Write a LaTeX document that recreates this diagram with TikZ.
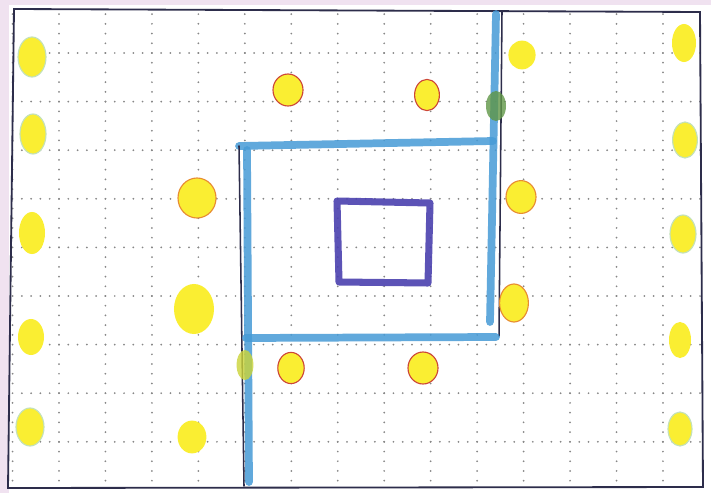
\documentclass[tikz,border=0pt]{standalone}
\usepackage{tikz}
\usetikzlibrary{shapes.geometric}
\definecolor{crayonyellow}{RGB}{250,238,50}
\definecolor{crayonblue}{RGB}{70,155,215}
\definecolor{pencil}{RGB}{45,45,75}
\definecolor{inkviolet}{RGB}{75,65,175}
\definecolor{ringred}{RGB}{205,70,55}
\definecolor{ringorange}{RGB}{232,140,50}
\definecolor{ringgreen}{RGB}{195,225,185}
\definecolor{gridgray}{RGB}{135,135,135}
\definecolor{paperpink}{RGB}{240,226,240}
\definecolor{mossgreen}{RGB}{95,150,70}
\tikzset{
  frame line/.style  = {line width=1.3pt, draw=pencil, line cap=round},
  crayon/.style      = {line width=5.5pt, draw=crayonblue, opacity=0.85, line cap=round},
  pencil line/.style = {line width=1.1pt, draw=pencil, line cap=round},
  square line/.style = {line width=5pt, draw=inkviolet, opacity=0.9, line join=round},
  grid dot/.style    = {fill=gridgray},
  coin/.style        = {ellipse, fill=crayonyellow, inner sep=0pt,
                        minimum width=0.72cm, minimum height=0.95cm},
  red coin/.style    = {coin, draw=ringred, line width=0.8pt},
  orange coin/.style = {coin, draw=ringorange, line width=0.8pt},
  pale coin/.style   = {coin, draw=ringgreen, line width=0.8pt},
  green spot/.style  = {ellipse, fill=mossgreen, opacity=0.8, inner sep=0pt,
                        minimum width=0.5cm, minimum height=0.75cm},
}

\begin{document}
\begin{tikzpicture}[x=0.025cm,y=-0.025cm]
  \useasboundingbox (0,0) rectangle (711,493);
  \fill[white] (0,0) rectangle (711,493);
  \fill[paperpink] (0,0) rectangle (9,493);
  \fill[paperpink] (0,0) rectangle (711,5);

  % dotted grid paper
  \foreach \r in {0,...,8}
    \foreach \k in {-4,...,69}
      \fill[grid dot] ({59+9.29*\k},{53+48.6*\r}) circle (0.7pt);
  \foreach \c in {-1,...,13}
    \foreach \k in {-4,...,44}
      \fill[grid dot] ({59+46.46*\c},{53+9.72*\k}) circle (0.7pt);

  % frame of the sheet
  \draw[frame line] (14,9) -- (700,12) -- (703,487) -- (8,488) -- cycle;

  % blue walls
  \coordinate (wall top) at (496,14);
  \coordinate (wall tr) at (493,141);
  \coordinate (wall tl) at (239,146);
  \coordinate (wall bl) at (246,338);
  \coordinate (wall br) at (496,337);
  \coordinate (wall bottom) at (244,486);
  \draw[crayon] (wall top) -- (490,322);
  \draw[pencil line] (502,12) -- (499,336);
  \draw[crayon] (wall tl) -- (wall tr);
  \draw[pencil line] (wall tl) -- (wall bottom);
  \draw[crayon] (247,150) -- (249,482);
  \draw[crayon] (wall bl) -- (wall br);

  % violet square in the middle
  \draw[square line] (337,201) -- (430,203) -- (428,283) -- (339,282) -- cycle;

  % left column
  \node[pale coin, minimum width=0.7cm, minimum height=1.0cm] (l1) at (32,57) {};
  \node[pale coin, minimum width=0.65cm, minimum height=1.0cm] (l2) at (33,134) {};
  \node[coin, minimum width=0.65cm, minimum height=1.05cm] (l3) at (32,233) {};
  \node[coin, minimum width=0.65cm, minimum height=0.9cm] (l4) at (31,337) {};
  \node[pale coin, minimum width=0.7cm, minimum height=0.95cm] (l5) at (30,427) {};

  % right column
  \node[coin, minimum width=0.6cm, minimum height=0.95cm] (r1) at (684,43) {};
  \node[pale coin, minimum width=0.62cm, minimum height=0.9cm] (r2) at (685,140) {};
  \node[pale coin, minimum width=0.65cm, minimum height=0.95cm] (r3) at (683,234) {};
  \node[coin, minimum width=0.55cm, minimum height=0.9cm] (r4) at (680,340) {};
  \node[pale coin, minimum width=0.6cm, minimum height=0.85cm] (r5) at (680,429) {};

  % outer ring
  \node[red coin, minimum width=0.75cm, minimum height=0.8cm] (o1) at (288,90) {};
  \node[red coin, minimum width=0.62cm, minimum height=0.78cm] (o2) at (427,95) {};
  \node[orange coin, minimum width=0.95cm, minimum height=1.0cm] (o3) at (197,198) {};
  \node[coin, minimum width=1.0cm, minimum height=1.25cm] (o4) at (194,309) {};
  \node[coin, minimum width=0.72cm, minimum height=0.82cm] (o5) at (192,437) {};
  \node[coin, minimum width=0.68cm, minimum height=0.72cm] (o6) at (522,55) {};
  \node[orange coin, minimum width=0.75cm, minimum height=0.82cm] (o7) at (521,197) {};
  \node[orange coin, minimum width=0.72cm, minimum height=0.95cm] (o8) at (514,303) {};
  \node[red coin, minimum width=0.66cm, minimum height=0.78cm] (o9) at (291,368) {};
  \node[red coin, minimum width=0.75cm, minimum height=0.8cm] (o10) at (423,368) {};

  % spots on the walls
  \node[green spot] (g1) at (496,106) {};
  \node[green spot, fill=crayonyellow!70!mossgreen, minimum width=0.42cm] (g2) at (245,365) {};
\end{tikzpicture}
\end{document}
